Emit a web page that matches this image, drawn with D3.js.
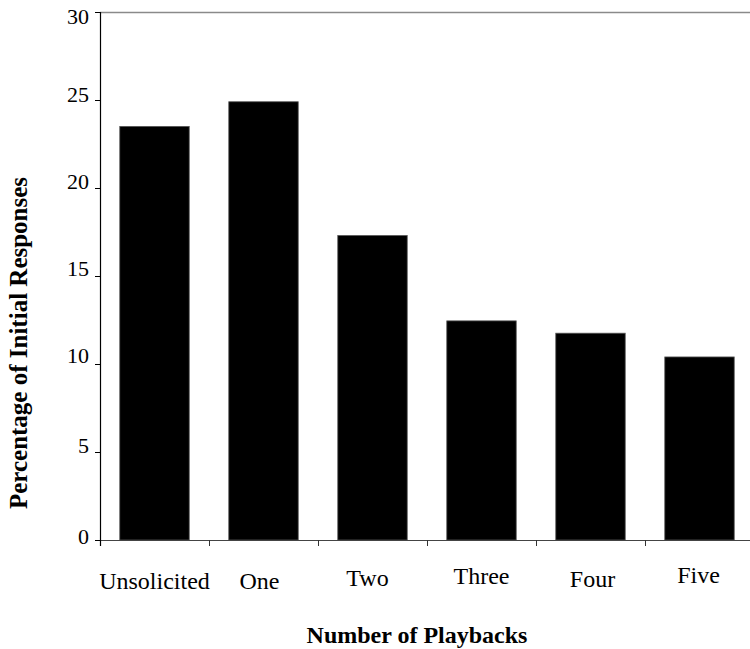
<!DOCTYPE html>
<html><head><meta charset="utf-8">
<script src="https://cdn.jsdelivr.net/npm/d3@7"></script>
<style>body{margin:0;background:#fff}svg{display:block}
text{font-family:"Liberation Serif","Times New Roman",Times,serif;fill:#000}
</style>
</head><body><svg id="c" width="750" height="649"></svg>
<script>
const categories = ["Unsolicited","One","Two","Three","Four","Five"];
const values = [23.5, 24.9, 17.3, 12.45, 11.75, 10.4];
const yTicks = [0,5,10,15,20,25,30];
// small label nudges seen in the reference (px)
const labelDx = [0, -4, -5, 0, 2, -1];
const labelDy = [0, 0, -3, -5, -2, -6];
const tickDy  = {0:4, 5:1, 10:-1, 15:0, 20:1, 25:2, 30:12};

const svg = d3.select("#c");
const x0 = 100, step = 109;
const x = d3.scaleBand().domain(categories).range([x0, x0 + step*categories.length])
  .paddingInner(0.363).paddingOuter(0.1815);
const y = d3.scaleLinear().domain([0,30]).range([540,12]);

svg.append("line").attr("x1",x0).attr("x2",750).attr("y1",y(30)+0.5).attr("y2",y(30)+0.5)
  .attr("stroke","#8a8a8a").attr("stroke-width",1.3);

svg.selectAll("rect.bar").data(values).join("rect")
  .attr("x",(d,i)=>x(categories[i])).attr("width",x.bandwidth())
  .attr("y",d=>y(d)).attr("height",d=>y(0)-y(d))
  .attr("fill","#000").attr("stroke","#555").attr("stroke-width",0.8);

svg.append("line").attr("x1",x0).attr("x2",750).attr("y1",y(0)+0.5).attr("y2",y(0)+0.5)
  .attr("stroke","#444").attr("stroke-width",1.2);
const bounds = categories.map((c,i)=>x0 + i*step);
svg.selectAll("line.xt").data(bounds).join("line")
  .attr("x1",d=>d+0.5).attr("x2",d=>d+0.5).attr("y1",y(0)).attr("y2",y(0)+6)
  .attr("stroke","#333");
svg.selectAll("text.xl").data(categories).join("text")
  .attr("x",(d,i)=>x(d)+x.bandwidth()/2+labelDx[i]).attr("y",(d,i)=>589+labelDy[i])
  .attr("text-anchor","middle").attr("font-size",24).text(d=>d);

svg.append("line").attr("x1",x0+0.5).attr("x2",x0+0.5).attr("y1",y(30)).attr("y2",y(0)+6)
  .attr("stroke","#000").attr("stroke-width",1.2);
svg.selectAll("line.yt").data(yTicks).join("line")
  .attr("x1",x0-5).attr("x2",x0).attr("y1",d=>y(d)+0.5).attr("y2",d=>y(d)+0.5)
  .attr("stroke","#000");
svg.selectAll("text.yl").data(yTicks).join("text")
  .attr("x",89).attr("y",d=>y(d)+tickDy[d])
  .attr("text-anchor","end").attr("font-size",22).text(d=>d);

svg.append("text").attr("x",417).attr("y",643).attr("text-anchor","middle")
  .attr("font-size",24).attr("font-weight","bold").text("Number of Playbacks");
svg.append("text").attr("transform","translate(27,343) rotate(-90)").attr("text-anchor","middle")
  .attr("font-size",25).attr("font-weight","bold").text("Percentage of Initial Responses");
</script></body></html>
